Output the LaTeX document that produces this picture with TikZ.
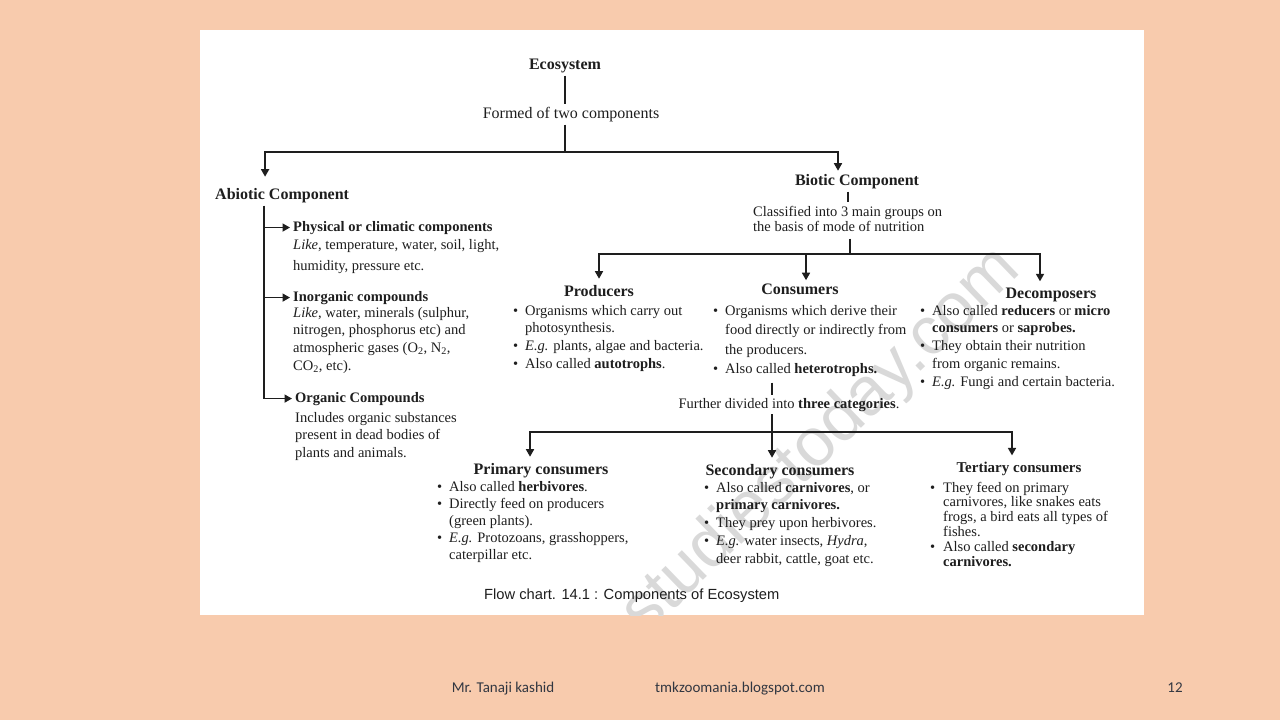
\documentclass[tikz,border=0pt]{standalone}
\usepackage{fontspec}
\setmainfont{Liberation Serif}
\newfontfamily\capfont{Liberation Sans}
\newfontfamily\footfont{Carlito}
\usetikzlibrary{arrows.meta}
\definecolor{peach}{RGB}{248,203,173}
\definecolor{ink}{RGB}{30,30,30}
\definecolor{footink}{RGB}{50,55,65}
\newcommand\bul{\makebox[12pt][l]{\textbullet}}
\newcommand\cnt{\hspace*{12pt}}
\newcommand\bulw{\makebox[13pt][l]{\textbullet}}
\newcommand\cntw{\hspace*{13pt}}
\tikzset{
  ln/.style={line width=1.6pt, draw=ink},
  arr/.style={ln, -{Triangle[width=8pt,length=7.5pt]}},
  hd/.style={font=\fontsize{16}{19}\selectfont\bfseries, text=ink, anchor=base, inner sep=3pt},
  sub/.style={font=\fontsize{14.5}{17}\selectfont\bfseries, text=ink, anchor=base west, inner xsep=0pt, inner ysep=3pt},
  txt/.style={text=ink, anchor=base west, inner xsep=0pt, inner ysep=3pt},
  foot/.style={anchor=base, inner sep=0pt, text=footink, font=\footfont\fontsize{15}{17}\selectfont},
}
\begin{document}
\begin{tikzpicture}[x=1pt,y=-1pt]
\useasboundingbox (0,0) rectangle (1280,720);
\fill[peach] (0,0) rectangle (1280,720);
\fill[white] (200,30) rectangle (1144,615);
% watermark
\begin{scope}
\clip (200,30) rectangle (1144,615);
\node[rotate=44, text=black!15, font=\capfont\fontsize{68}{68}\selectfont] (wm) at (822,442) {studiestoday.com};
\end{scope}
% top
\node[hd] (eco) at (565,69) {Ecosystem};
\node[txt, anchor=base, font=\fontsize{16}{18}\selectfont] (formed) at (571,118) {Formed of two components};
\node[hd, anchor=base west, inner xsep=0pt] (abio) at (215,199) {Abiotic Component};
\node[hd] (bio) at (857,185) {Biotic Component};
\node[txt, font=\fontsize{14.5}{15}\selectfont] (cls) at (753,216)
  {\begin{tabular}[t]{@{}l@{}}Classified into 3 main groups on\\ the basis of mode of nutrition\end{tabular}};
\coordinate (y152) at (0,152);
\coordinate (j1) at (eco.south |- y152);
\coordinate (j2) at (850,254);
\coordinate (j3) at (772,432);
\coordinate (av) at (264,0);
% three groups
\node[hd] (prod) at (599,296) {Producers};
\node[hd] (cons) at (800,294) {Consumers};
\node[hd] (deco) at (1051,298) {Decomposers};
\node[txt, font=\fontsize{14.5}{17.8}\selectfont] (prodb) at (513,315)
  {\begin{tabular}[t]{@{}l@{}}\bul Organisms which carry out\\ \cnt photosynthesis.\\ \bul \textit{E.g.} plants, algae and bacteria.\\ \bul Also called \textbf{autotrophs}.\end{tabular}};
\node[txt, font=\fontsize{14.5}{19.5}\selectfont] (consb) at (713,315)
  {\begin{tabular}[t]{@{}l@{}}\bul Organisms which derive their\\ \cnt food directly or indirectly from\\ \cnt the producers.\\ \bul Also called \textbf{heterotrophs.}\end{tabular}};
\node[txt, font=\fontsize{14.5}{17.8}\selectfont] (decob) at (920,315)
  {\begin{tabular}[t]{@{}l@{}}\bul Also called \textbf{reducers} or \textbf{micro}\\ \cnt \textbf{consumers} or \textbf{saprobes.}\\ \bul They obtain their nutrition\\ \cnt from organic remains.\\ \bul \textit{E.g.} Fungi and certain bacteria.\end{tabular}};
\node[txt, anchor=base, font=\fontsize{14.5}{17}\selectfont] (further) at (789,408) {Further divided into \textbf{three categories}.};
% consumers categories
\node[hd] (prim) at (541,474) {Primary consumers};
\node[hd] (sec) at (780,475) {Secondary consumers};
\node[hd, font=\fontsize{15}{18}\selectfont\bfseries] (ter) at (1019,472) {Tertiary consumers};
\node[txt, font=\fontsize{14.5}{17.2}\selectfont] (primb) at (437,491)
  {\begin{tabular}[t]{@{}l@{}}\bul Also called \textbf{herbivores}.\\ \bul Directly feed on producers\\ \cnt (green plants).\\ \bul \textit{E.g.} Protozoans, grasshoppers,\\ \cnt caterpillar etc.\end{tabular}};
\node[txt, font=\fontsize{14.5}{17.8}\selectfont] (secb) at (704,492)
  {\begin{tabular}[t]{@{}l@{}}\bul Also called \textbf{carnivores}, or\\ \cnt \textbf{primary carnivores.}\\ \bul They prey upon herbivores.\\ \bul \textit{E.g.} water insects, \textit{Hydra},\\ \cnt deer rabbit, cattle, goat etc.\end{tabular}};
\node[txt, font=\fontsize{14.5}{14.8}\selectfont] (terb) at (930,492)
  {\begin{tabular}[t]{@{}l@{}}\bulw They feed on primary\\ \cntw carnivores, like snakes eats\\ \cntw frogs, a bird eats all types of\\ \cntw fishes.\\ \bulw Also called \textbf{secondary}\\ \cntw \textbf{carnivores.}\end{tabular}};
% abiotic items
\node[sub] (physh) at (293,231) {Physical or climatic components};
\node[txt, font=\fontsize{14.5}{21}\selectfont] (physb) at (293,249)
  {\begin{tabular}[t]{@{}l@{}}\textit{Like}, temperature, water, soil, light,\\ humidity, pressure etc.\end{tabular}};
\node[sub] (inorgh) at (293,301) {Inorganic compounds};
\node[txt, font=\fontsize{14.5}{17.7}\selectfont] (inorgb) at (293,317)
  {\begin{tabular}[t]{@{}l@{}}\textit{Like}, water, minerals (sulphur,\\ nitrogen, phosphorus etc) and\\ atmospheric gases (O\textsubscript{2}, N\textsubscript{2},\\ CO\textsubscript{2}, etc).\end{tabular}};
\node[sub] (orgh) at (295,402) {Organic Compounds};
\node[txt, font=\fontsize{14.5}{17.5}\selectfont] (orgb) at (295,422)
  {\begin{tabular}[t]{@{}l@{}}Includes organic substances\\ present in dead bodies of\\ plants and animals.\end{tabular}};
% connectors
\draw[ln] (eco.south) -- (eco.south |- formed.north);
\draw[ln] (eco.south |- formed.south) -- (j1);
\draw[arr, shorten >=8pt] (j1) -| ([xshift=-17pt]abio.north);
\draw[arr] (j1) -| ([xshift=-19pt]bio.north);
\draw[ln] ([xshift=-9pt]bio.south) -- ([xshift=-9pt]bio.south |- cls.north);
\draw[ln] (cls.south -| j2) -- (j2);
\draw[arr, shorten >=3pt] (j2) -| (prod.north);
\draw[arr] (j2) -| ([xshift=6pt]cons.north);
\draw[arr, shorten >=3pt] (j2) -| ([xshift=-11pt]deco.north);
\draw[ln] (consb.south -| j3) -- (further.north -| j3);
\draw[ln] (further.south -| j3) -- (j3);
\draw[arr, shorten >=3pt] (j3) -| ([xshift=-11pt]prim.north);
\draw[arr, shorten >=3pt] (j3) -| ([xshift=-8pt]sec.north);
\draw[arr, shorten >=3pt] (j3) -| ([xshift=-7pt]ter.north);
\draw[arr] (abio.south -| av) |- ([xshift=-3pt]orgh.west);
\draw[arr] (av |- physh.west) -- ([xshift=-3pt]physh.west);
\draw[arr] (av |- inorgh.west) -- ([xshift=-3pt]inorgh.west);
% caption and footer
\node[anchor=base west, inner sep=0pt, text=ink, font=\capfont\fontsize{14.7}{17}\selectfont] (cap) at (484,599) {Flow chart. 14.1 : Components of Ecosystem};
\node[foot] (f1) at (503,692) {Mr. Tanaji kashid};
\node[foot] (f2) at (740,692) {tmkzoomania.blogspot.com};
\node[foot] (f3) at (1175,692) {12};
\end{tikzpicture}
\end{document}
